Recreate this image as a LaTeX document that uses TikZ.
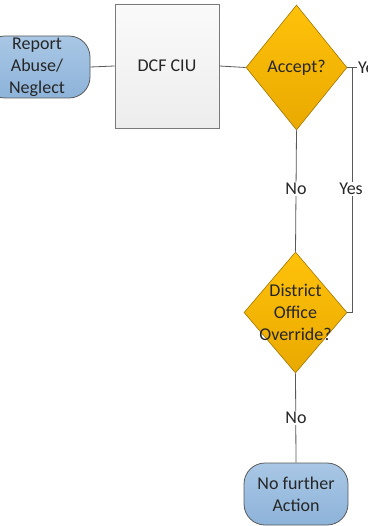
\documentclass[tikz,border=0pt]{standalone}
\usepackage{fontspec}
\setmainfont{Carlito}
\usetikzlibrary{shapes.geometric}
\definecolor{txtc}{HTML}{262626}
\definecolor{linec}{HTML}{595959}
\definecolor{bluetop}{HTML}{A9C7E5}
\definecolor{bluebot}{HTML}{8DB3D9}
\definecolor{goldtop}{HTML}{FFC20A}
\definecolor{goldbot}{HTML}{E9A900}
\definecolor{boxtop}{HTML}{FAFAFA}
\definecolor{boxbot}{HTML}{EDEDED}
\tikzset{
  every node/.style={font=\fontsize{18}{22}\selectfont, text=txtc},
  conn/.style={draw=linec, line width=0.8pt},
  terminal/.style={draw=linec, line width=0.8pt, rounded corners=21pt, top color=bluetop, bottom color=bluebot, align=center, inner sep=0pt},
  process/.style={draw=linec!80, line width=0.8pt, top color=boxtop, bottom color=boxbot, inner sep=0pt},
  decision/.style={diamond, draw=goldbot!70!black, line width=0.6pt, top color=goldtop, bottom color=goldbot, inner sep=0pt},
  lbl/.style={fill=white, inner sep=1.5pt, align=center},
}
\begin{document}
\begin{tikzpicture}[x=1pt, y=-1pt]
\clip (0,0) rectangle (367,526);
\fill[white] (0,0) rectangle (367,526);
\node[terminal, minimum width=106pt, minimum height=62pt] (report) at (37,67) {Report\\Abuse/\\Neglect};
\node[process, minimum width=104pt, minimum height=124pt] (dcf) at (167,66) {DCF CIU};
\node[decision, minimum width=101pt, minimum height=125pt] (accept) at (296.5,67.5) {};
\node[align=center] (accepttxt) at (accept.center) {Accept?};
\node[decision, minimum width=103pt, minimum height=121pt] (district) at (295.5,312.5) {};
\node[align=center] (districttxt) at (district.center) {District\\Office\\Override?};
\node[terminal, minimum width=104pt, minimum height=62pt] (nfa) at (296,494) {No further\\Action};
\coordinate (yesend) at (357,67.5);
\coordinate (junc) at (352,67.5);
\coordinate (juncdown) at (352,312.5);
\draw[conn] (report.east) -- (dcf.west);
\draw[conn] (dcf.east) -- (accept.west);
\draw[conn] (accept.east) -- (yesend);
\node[anchor=west, inner sep=1pt] (yestop) at (yesend) {Yes};
\draw[conn] (junc) -- (juncdown) -- (district.east);
\node[lbl] (yeslbl) at (351,189) {Yes};
\draw[conn] (accept.south) -- (district.north);
\node[lbl] (nolbl1) at (296,189) {No};
\draw[conn] (district.south) -- (nfa.north);
\node[lbl] (nolbl2) at (296,418) {No};
\end{tikzpicture}
\end{document}
